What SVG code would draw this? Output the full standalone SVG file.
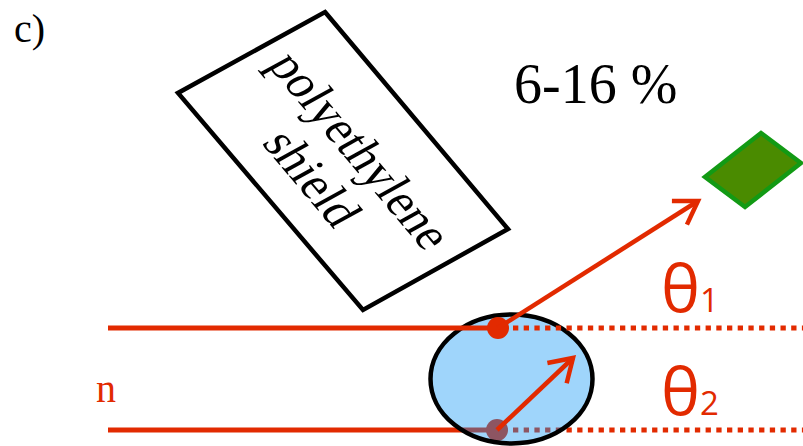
<svg xmlns="http://www.w3.org/2000/svg" width="803" height="446" viewBox="0 0 803 446">
<style>
.red{stroke:#E22A00;stroke-width:5;fill:none}
.dot{stroke:#E22A00;stroke-width:5;fill:none;stroke-dasharray:5.3 5.4}
.serif{font-family:"Liberation Serif","Times New Roman",serif;fill:#000}
.theta{font-family:"Open Sans","Liberation Sans",Arial,sans-serif;fill:#E22A00}
.arr{stroke:#E22A00;stroke-width:4.5;fill:none;marker-end:url(#head)}
</style>
<defs>
<marker id="head" markerUnits="userSpaceOnUse" markerWidth="40" markerHeight="40" refX="0" refY="0" orient="auto" overflow="visible" viewBox="-30 -20 40 40">
<path d="M-22,-14 L0,0 L-22,14" fill="none" stroke="#E22A00" stroke-width="4.5" stroke-linejoin="miter"/>
</marker>
</defs>
<text class="serif" x="14" y="42" font-size="40">c)</text>
<g id="shield">
<polygon points="325,12 508,229 363,310 178,93" fill="none" stroke="#000" stroke-width="4.5" stroke-linejoin="miter"/>
<g transform="matrix(0.697,0.826,-1.022,0.563,343.5,161)">
<text class="serif" font-size="44" text-anchor="middle" x="-1" y="-3">polyethylene</text>
<text class="serif" font-size="44" text-anchor="middle" x="0" y="45">shield</text>
</g>
</g>
<g id="label-percent">
<text class="serif" x="514" y="103" font-size="56">6-16 %</text>
</g>
<g id="connectors-lower">
<line class="red" x1="108" y1="430" x2="497" y2="430"/>
<line class="dot" x1="513" y1="430" x2="803" y2="430"/>
<circle cx="497" cy="430" r="11" fill="#E22A00"/>
</g>
<g id="target">
<ellipse cx="511.5" cy="379" rx="81" ry="64.5" fill="rgb(16,150,245)" fill-opacity="0.4" stroke="none"/>
<ellipse cx="511.5" cy="379" rx="81" ry="64.5" fill="none" stroke="#000" stroke-width="4.5"/>
</g>
<g id="connectors">
<line class="red" x1="108" y1="328" x2="498" y2="328"/>
<line class="dot" x1="513" y1="328" x2="803" y2="328"/>
<circle cx="498" cy="328" r="11" fill="#E22A00"/>
<line class="arr" x1="498" y1="328" x2="698" y2="201"/>
<line class="arr" x1="497" y1="430" x2="573" y2="358"/>
</g>
<g id="detector">
<polygon points="761,133 801,163 745,207 705,177" fill="#4A8B00" stroke="#129A14" stroke-width="4.5" stroke-linejoin="miter"/>
</g>
<g id="labels">
<text class="theta" x="661" y="312" font-size="66">θ<tspan font-size="33">1</tspan></text>
<text class="theta" x="661" y="415" font-size="66">θ<tspan font-size="33">2</tspan></text>
<text x="96" y="402" font-size="40" font-family="Liberation Serif, serif" fill="#E22A00">n</text>
</g>
</svg>
